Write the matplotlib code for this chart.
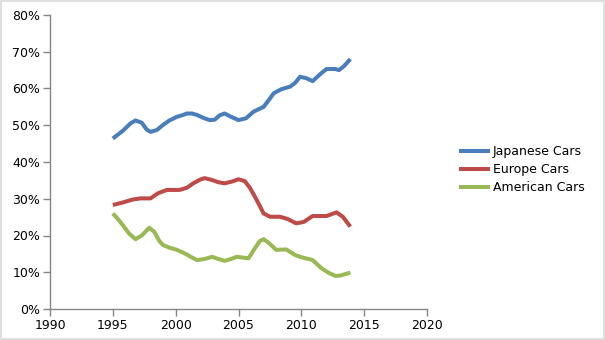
import matplotlib
matplotlib.use("Agg")
import matplotlib.pyplot as plt
from matplotlib.patches import Rectangle
from matplotlib.ticker import FuncFormatter, MultipleLocator

# Market share by origin of car (fraction of total)
jp_years = [1995.0, 1995.8, 1996.4, 1996.8, 1997.3, 1997.7, 1998.0, 1998.5, 1999.0,
            1999.5, 2000.1, 2000.6, 2000.9, 2001.3, 2001.7, 2002.2, 2002.7, 2003.1,
            2003.5, 2003.9, 2004.4, 2005.0, 2005.6, 2006.2, 2007.0, 2007.4, 2007.8,
            2008.4, 2009.1, 2009.5, 2009.9, 2010.4, 2010.9, 2011.5, 2012.0, 2012.7,
            2013.0, 2013.4, 2013.9]
jp_share = [0.464, 0.485, 0.505, 0.513, 0.507, 0.488, 0.482, 0.487, 0.501,
            0.513, 0.523, 0.528, 0.532, 0.532, 0.528, 0.520, 0.514, 0.515,
            0.527, 0.532, 0.523, 0.514, 0.519, 0.537, 0.550, 0.568, 0.587,
            0.598, 0.605, 0.615, 0.632, 0.628, 0.620, 0.639, 0.653, 0.653,
            0.650, 0.661, 0.680]

eu_years = [1995.0, 1995.8, 1996.6, 1997.2, 1998.0, 1998.6, 1999.3, 2000.3, 2000.9,
            2001.4, 2002.0, 2002.3, 2002.8, 2003.4, 2003.9, 2004.5, 2005.0, 2005.5,
            2005.9, 2006.3, 2006.7, 2007.0, 2007.5, 2008.3, 2008.9, 2009.6, 2010.2,
            2010.9, 2011.5, 2012.0, 2012.8, 2013.3, 2013.9]
eu_share = [0.283, 0.290, 0.298, 0.301, 0.301, 0.315, 0.324, 0.324, 0.330,
            0.342, 0.353, 0.356, 0.352, 0.345, 0.342, 0.347, 0.353, 0.348,
            0.330, 0.306, 0.280, 0.260, 0.251, 0.251, 0.245, 0.233, 0.237,
            0.253, 0.253, 0.253, 0.263, 0.251, 0.224]

us_years = [1995.0, 1995.4, 1995.8, 1996.3, 1996.8, 1997.3, 1997.9, 1998.3, 1998.7,
            1999.0, 1999.5, 2000.1, 2000.8, 2001.2, 2001.7, 2002.3, 2002.9, 2003.4,
            2003.9, 2004.4, 2004.85, 2005.8, 2006.3, 2006.7, 2007.0, 2007.4, 2008.0,
            2008.8, 2009.5, 2010.0, 2010.9, 2011.6, 2012.2, 2012.7, 2013.1, 2013.9]
us_share = [0.260, 0.245, 0.228, 0.205, 0.190, 0.200, 0.221, 0.210, 0.185,
            0.174, 0.167, 0.161, 0.150, 0.142, 0.133, 0.136, 0.142, 0.136,
            0.131, 0.136, 0.142, 0.138, 0.165, 0.185, 0.190, 0.180, 0.161,
            0.162, 0.147, 0.141, 0.133, 0.111, 0.098, 0.090, 0.091, 0.099]

series = [
    ("Japanese Cars", jp_years, jp_share, "#4a7ebb"),
    ("Europe Cars", eu_years, eu_share, "#be4b48"),
    ("American Cars", us_years, us_share, "#98b954"),
]

x_ticks = [1990, 1995, 2000, 2005, 2010, 2015, 2020]

plt.rcParams["font.family"] = ["DejaVu Sans"]
fig = plt.figure(figsize=(6.05, 3.4), dpi=100)
fig.patches.append(Rectangle((0.001, 0.002), 0.997, 0.995, transform=fig.transFigure,
                             fill=False, edgecolor="#d9d9d9", linewidth=1.2))

ax = fig.add_axes([50 / 605, 1 - 309 / 340, 377 / 605, 294 / 340])
for name, xs, ys, color in series:
    ax.plot(xs, ys, color=color, linewidth=2.9, solid_capstyle="butt",
            solid_joinstyle="round", label=name)

ax.set_xlim(1990, 2020)
ax.set_ylim(0, 0.8)
ax.set_xticks(x_ticks)
ax.yaxis.set_major_locator(MultipleLocator(0.1))
ax.yaxis.set_major_formatter(FuncFormatter(lambda v, p: f"{v * 100:.0f}%"))

for side in ("top", "right"):
    ax.spines[side].set_visible(False)
for side in ("left", "bottom"):
    ax.spines[side].set_color("#868686")
    ax.spines[side].set_linewidth(1.0)
ax.tick_params(axis="both", direction="out", length=5, width=1.0, color="#868686",
               labelsize=9, labelcolor="black", pad=2)

ax.legend(loc="upper left", bbox_to_anchor=(453 / 605, 1 - 139 / 340),
          bbox_transform=fig.transFigure, frameon=False, fontsize=9,
          handlelength=2.45, handletextpad=0.25, labelspacing=0.4, borderpad=0)

fig.savefig("out.png", dpi=100)
